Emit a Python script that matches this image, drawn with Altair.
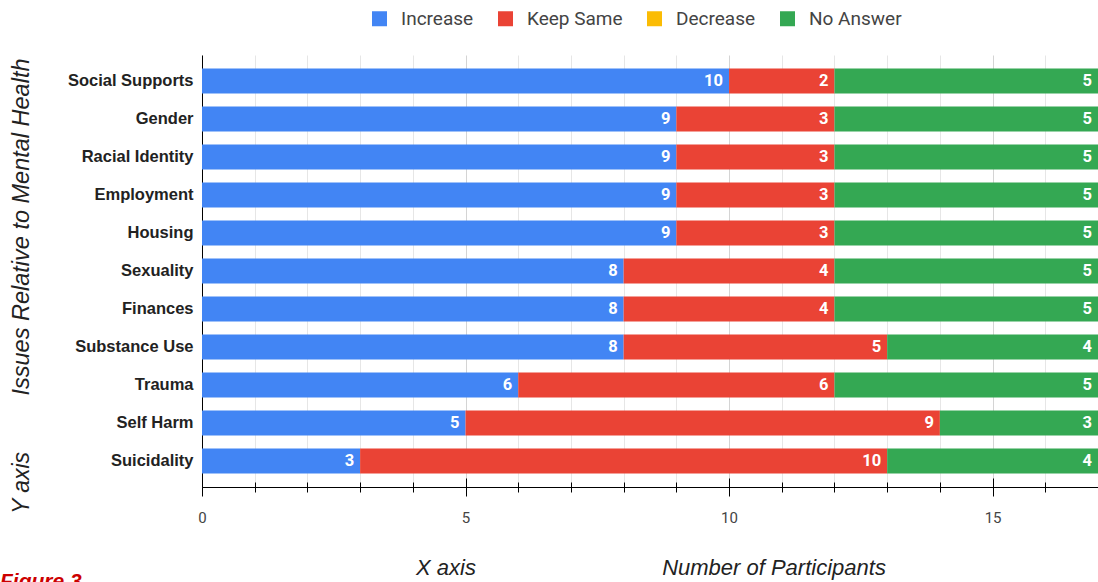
import altair as alt
import pandas as pd

categories = ["Social Supports", "Gender", "Racial Identity", "Employment", "Housing",
              "Sexuality", "Finances", "Substance Use", "Trauma", "Self Harm", "Suicidality"]
series = ["Increase", "Keep Same", "Decrease", "No Answer"]
colors = ["#4285F4", "#EA4335", "#FBBC04", "#34A853"]
increase = [10, 9, 9, 9, 9, 8, 8, 8, 6, 5, 3]
keep_same = [2, 3, 3, 3, 3, 4, 4, 5, 6, 9, 10]
decrease = [0, 0, 0, 0, 0, 0, 0, 0, 0, 0, 0]
no_answer = [5, 5, 5, 5, 5, 5, 5, 4, 5, 3, 4]
x_ticks = list(range(0, 18))

rows = []
for i, cat in enumerate(categories):
    start = 0
    for k, (name, vals) in enumerate(zip(series, [increase, keep_same, decrease, no_answer])):
        v = vals[i]
        rows.append({"category": cat, "series": name, "order": k, "value": v,
                     "start": start, "end": start + v})
        start += v
df = pd.DataFrame(rows)

W, H = 896, 432
xscale = alt.Scale(domain=[0, 17], nice=False, zero=True)
yscale = alt.Scale(paddingInner=0.34, paddingOuter=0.355)
yaxis = alt.Axis(title=None, domainColor="#000000", domainWidth=1, ticks=False,
                 labelFont="Liberation Sans", labelFontWeight="bold", labelFontSize=16.5,
                 labelColor="#222222", labelPadding=9, grid=False)

bars = alt.Chart(df).mark_bar().encode(
    y=alt.Y("category:N", sort=categories, scale=yscale, axis=yaxis),
    x=alt.X("start:Q", scale=xscale,
            axis=alt.Axis(title=None, values=x_ticks, labelFlush=False,
                          labelExpr="datum.value % 5 === 0 ? datum.label : ''",
                          labelFont="Roboto", labelFontSize=15, labelColor="#444444",
                          labelPadding=14, domainColor="#000000", tickColor="#000000",
                          tickSize={"condition": {"test": "datum.value % 5 === 0", "value": 9}, "value": 5},
                          grid=True,
                          gridColor={"condition": {"test": "datum.value % 5 === 0", "value": "#d4d4d4"}, "value": "#e6e6e6"})),
    x2="end:Q",
    color=alt.Color("series:N", scale=alt.Scale(domain=series, range=colors),
                    legend=alt.Legend(title=None, orient="none", direction="horizontal",
                                      legendX=168, legendY=-46, symbolType="square",
                                      symbolSize=225, symbolStrokeWidth=0,
                                      labelFont="Roboto", labelFontSize=19,
                                      labelColor="#444444", labelOffset=12,
                                      columnPadding=22)),
    order="order:Q",
)

labels = alt.Chart(df).transform_filter("datum.value > 0").mark_text(
    align="right", baseline="middle", dx=-6, color="white",
    font="Roboto", fontWeight="bold", fontSize=16.5
).encode(
    y=alt.Y("category:N", sort=categories, scale=yscale, axis=yaxis),
    x=alt.X("end:Q", scale=xscale,
            axis=alt.Axis(title=None, orient="top", offset=-H, values=x_ticks,
                          labels=False, domain=False, grid=False, tickColor="#000000",
                          tickSize={"condition": {"test": "datum.value % 5 === 0", "value": 9}, "value": 5})),
    text="value:Q",
)

def note(txt, x, y, size=22, angle=0, color="#222222", weight="normal", style="italic",
         align="center", baseline="middle", font="Liberation Sans"):
    return alt.Chart(pd.DataFrame({"t": [txt]})).mark_text(
        fontSize=size, angle=angle, color=color, fontWeight=weight, fontStyle=style,
        align=align, baseline=baseline, font=font
    ).encode(text="t:N", x=alt.value(x), y=alt.value(y))

ytitle = note("Issues Relative to Mental Health", -180, 172, size=23.5, angle=270)
yaxis_ph = note("Y axis", -180, 428, size=23, angle=270)
xaxis_ph = note("X axis", 244, 513)
xtitle = note("Number of Participants", 572, 513)
fig = note("Figure 3", -202, 516, size=21, color="#CC0000", weight="bold",
           align="left", baseline="top")

chart = alt.layer(bars, labels, ytitle, yaxis_ph, xaxis_ph, xtitle, fig).resolve_axis(
    x="independent"
).properties(
    width=W, height=H, autosize="none",
    padding={"left": 202, "top": 55, "right": 0, "bottom": 95},
    background="white",
).configure_view(stroke=None)

chart.save("out.html", embed_options={"renderer": "svg", "actions": False})
